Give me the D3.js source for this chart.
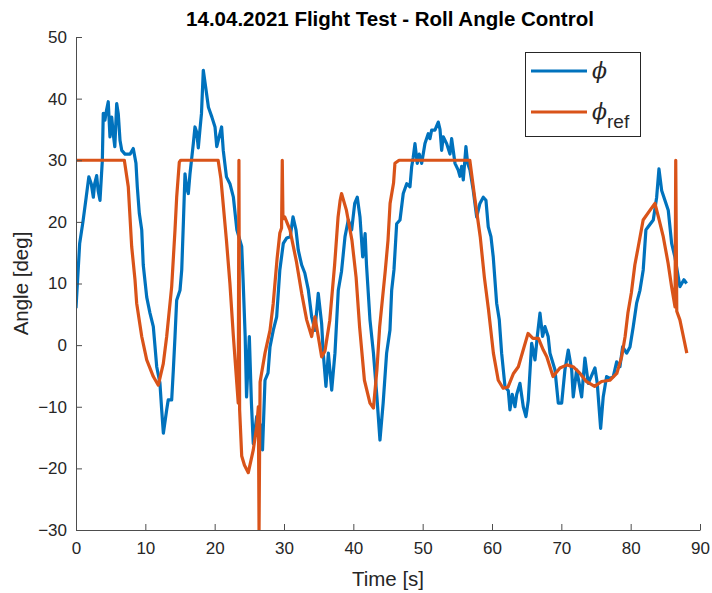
<!DOCTYPE html>
<html><head><meta charset="utf-8">
<script src="https://cdn.jsdelivr.net/npm/d3@7"></script>
<style>body{margin:0;background:#fff}svg{display:block}text{font-family:"Liberation Sans",Arial,sans-serif}</style>
</head><body>
<svg id="c" width="712" height="593"></svg>
<script>
const refT=[0,6.97,7.54,8.03,8.51,8.75,9.48,10.2,11.15,11.87,12.59,13.08,13.8,14.28,14.52,14.9,15.1,20.5,20.9,21.7,22.2,22.7,23.4,23.5,23.6,23.9,24.3,24.85,25.57,26.06,26.3,26.4,26.55,27.26,27.98,28.45,29.0,29.4,29.65,29.75,29.85,30.1,30.86,31.8,32.55,33.27,33.99,34.46,34.94,35.43,35.9,36.6,37.3,37.8,38.1,38.3,39.0,39.8,40.4,40.9,41.6,42.4,42.9,43.4,43.8,44.6,45.0,45.3,45.8,46.0,46.6,56.8,57.5,58.3,58.9,59.5,60.2,60.9,61.6,62.3,63.1,63.8,64.5,65.2,65.9,66.7,67.4,67.9,68.8,69.8,70.8,71.7,72.7,73.6,74.8,75.8,77.0,78.0,78.7,79.2,79.6,80.1,80.6,81.1,81.8,82.8,83.5,84.0,84.7,85.4,85.9,86.4,86.5,86.65,87.1,87.6,88.1];
const refV=[30,30,25.7,16,10.6,6.8,1.4,-2.4,-5.1,-6.5,-3,1.4,9.5,18.7,24,29.7,30,30,27,17,10,1.4,-9.4,30,-10.5,-18,-19.5,-20.7,-17,-13.2,-10,-30,-6,-1.3,2.4,6.8,14,18.2,19,30,20.5,20.8,18.7,13.5,8.4,4.1,1.4,4.6,1.4,-1.9,-1,4,13,20.8,23.5,24.6,21.9,17,11,3,-5.7,-9.4,-10.2,-4,3,12,17,23,26.3,29.5,30,30,24,17.6,11,5.7,-1.3,-5.7,-7,-6.8,-4.6,-3.5,-0.8,1.9,1.1,1.1,-0.8,-1.9,-5.1,-3.7,-3.2,-3.5,-4.6,-5.9,-6.7,-5.9,-5.7,-4.6,-1.9,1.4,5.2,8.5,13,16,20.3,21.9,23,20.8,17.6,13.3,9.5,6.2,30,5.5,4.1,1.4,-1.3];
const phiT=[0,0.53,1.0,1.47,1.85,2.2,2.5,2.7,2.98,3.2,3.46,3.8,3.93,4.17,4.4,4.65,4.9,5.15,5.4,5.6,5.87,6.1,6.35,6.6,7.07,7.8,8.26,8.65,8.84,9.13,9.48,9.7,10.2,10.67,11.15,11.4,11.64,12.1,12.36,12.6,13.08,13.3,13.8,14.04,14.28,14.52,15.0,15.25,15.5,15.72,15.96,16.2,16.44,16.92,17.16,17.4,17.64,17.88,18.1,18.36,18.7,19.1,19.6,20.05,20.3,21.0,21.24,21.7,22.2,22.7,23.2,23.9,24.1,24.4,24.6,25.0,25.3,25.57,26.06,26.6,26.9,27.26,27.7,27.98,28.45,28.94,29.4,29.9,30.4,30.9,31.3,31.73,32.06,32.55,33.0,33.5,33.99,34.46,34.94,35.43,35.66,36.05,36.4,36.88,37.35,37.83,38.3,38.8,39.27,39.76,40.2,40.57,40.96,41.35,41.7,41.9,42.4,42.9,43.4,43.84,44.3,44.8,45.28,45.53,45.86,46.25,46.73,47.2,47.7,48.17,48.41,48.64,48.89,49.22,49.51,49.86,50.33,50.8,51.05,51.3,51.77,52.25,52.5,52.74,52.97,53.46,53.94,54.18,54.66,55.13,55.38,55.62,55.86,56.24,56.49,56.82,57.3,57.79,58.26,58.74,59.13,59.46,59.85,60.18,60.67,61.05,61.39,61.87,62.35,62.59,62.92,63.31,63.56,64.03,64.51,64.9,65.23,65.72,66.2,66.53,66.92,67.3,67.64,68.1,68.36,69.08,69.56,70.05,70.52,71.0,71.49,71.72,72.21,72.93,73.4,73.88,74.85,75.18,75.67,76.04,76.53,77.0,77.49,77.98,78.45,78.84,79.42,79.9,80.37,80.86,81.34,81.81,82.2,82.53,83.26,83.75,84.08,84.47,84.94,85.42,85.91,86.38,87.1,87.68,88.07];
const phiV=[6,16.5,20,24,27.3,26.2,24,26.2,27.5,25,23.5,30,37.6,36.5,38.1,39.5,33.8,37,34,32.2,39.2,37.5,33.2,31.6,31,31,31.9,29.5,25.7,21.4,18.7,13,7.8,5.2,3,-0.3,-3.5,-6.1,-10.5,-14.3,-10.5,-8.9,-8.9,-4,1.4,7.3,8.9,12.2,20.3,27.8,25.5,24.6,27.8,32.7,35.4,34.6,32,35,37.6,44.6,41.9,38.6,37,35.4,32.2,35.4,31.6,27.3,26.2,24,18.7,16,10.6,1.4,-8.4,1.4,-9.4,-16,-11.6,-13,-17,-5.7,-4.5,-0.3,2.4,4.6,12.2,16.5,17.4,17.6,20.8,18.7,15.4,13,11.7,9,4.6,2.4,8.4,3.5,-1.3,-6.7,-1.3,-7.3,-1.3,8.9,12,17.6,20.3,18.7,23,24,20.8,14.3,18.1,13,4.1,-1.3,-8.4,-15.4,-9.4,-1.3,2.4,8.9,12.2,19.7,20.3,24.6,26.2,25.7,28.9,30.5,32.7,29.5,31,29.5,32.7,34.3,33.5,34.9,34.9,36.2,35,31.6,33.8,32.7,31,33.5,29.5,28.4,27.4,29,26.8,32.2,29.5,28.4,25.1,20.8,23,24,23.5,19.2,17.6,14.3,6.8,4.1,-1.3,-6.7,-7.4,-10.5,-8,-10,-8,-6.2,-10,-11.6,-9,0.3,-2.4,1.4,5.2,1.4,3,1.4,-1.3,-4,-9.4,-9.4,-4,-0.8,-4,-8.4,-4,-8.4,-2.1,-6.2,-3.7,-6.2,-13.5,-8.4,-5.1,-5.4,-5.1,-2.7,-3.5,-0.3,-1.3,-0.3,3,6.8,8.9,12.2,18.7,19.2,20.3,24,28.6,25.1,23.5,21.9,16.5,14.3,9.5,10.6,10];
const xTicks=[0,10,20,30,40,50,60,70,80,90];
const yTicks=[-30,-20,-10,0,10,20,30,40,50];
const titleText="14.04.2021 Flight Test - Roll Angle Control";
const xLabel="Time [s]", yLabel="Angle [deg]";

const L=76,R=700,T=37,B=530;
const svg=d3.select("#c");
const x=d3.scaleLinear().domain([0,90]).range([L,R]);
const y=d3.scaleLinear().domain([-30,50]).range([B,T]);
const axCol="#4d4d4d", txtCol="#262626";

const g=svg.append("g");
svg.append("clipPath").attr("id","cp").append("rect").attr("x",L).attr("y",T-2).attr("width",R-L).attr("height",B-T+2);

const line=d3.line().x(d=>x(d[0])).y(d=>y(d[1]));
const phiData=phiT.map((t,i)=>[t,phiV[i]]);
const refData=refT.map((t,i)=>[t,refV[i]]);
g.append("path").datum(phiData).attr("d",line).attr("fill","none").attr("stroke","#0072BD").attr("stroke-width",3.2).attr("stroke-linejoin","round").attr("clip-path","url(#cp)");
g.append("path").datum(refData).attr("d",line).attr("fill","none").attr("stroke","#D95319").attr("stroke-width",3.2).attr("stroke-linejoin","round").attr("clip-path","url(#cp)");

// axes
const xa=svg.append("g").attr("transform",`translate(0,${B})`).call(d3.axisBottom(x).tickValues(xTicks).tickSizeInner(-6).tickSizeOuter(0).tickPadding(12));
const ya=svg.append("g").attr("transform",`translate(${L},0)`).call(d3.axisLeft(y).tickValues(yTicks).tickSizeInner(-6).tickSizeOuter(0).tickPadding(9));
[xa,ya].forEach(a=>{a.select(".domain").attr("stroke",axCol).attr("stroke-width",1);a.selectAll(".tick line").attr("stroke",axCol);a.selectAll(".tick text").attr("fill",txtCol).style("font-size","17px");});

svg.append("text").attr("x",390).attr("y",26).attr("text-anchor","middle").attr("fill","#000").style("font-size","20.5px").style("font-weight","bold").text(titleText);
svg.append("text").attr("x",(L+R)/2).attr("y",586).attr("text-anchor","middle").attr("fill",txtCol).style("font-size","20.5px").text(xLabel);
svg.append("text").attr("transform",`translate(28,${(T+B)/2}) rotate(-90)`).attr("text-anchor","middle").attr("fill",txtCol).style("font-size","20.5px").text(yLabel);

// legend
const lg=svg.append("g");
lg.append("rect").attr("x",525.5).attr("y",52.5).attr("width",115).attr("height",84).attr("fill","#fff").attr("stroke","#262626").attr("stroke-width",1);
const items=[{c:"#0072BD",y:71,sub:""},{c:"#D95319",y:112,sub:"ref"}];
items.forEach(it=>{
  lg.append("line").attr("x1",531).attr("x2",587).attr("y1",it.y).attr("y2",it.y).attr("stroke",it.c).attr("stroke-width",3.2);
  const t=lg.append("text").attr("x",592).attr("y",it.y+7).attr("fill",txtCol).style("font-size","22px");
  t.append("tspan").style("font-family","'DejaVu Serif',serif").style("font-style","italic").text("\u03D5");
  if(it.sub) t.append("tspan").attr("dy",9).style("font-size","19px").text(it.sub);
});
</script>
</body></html>
